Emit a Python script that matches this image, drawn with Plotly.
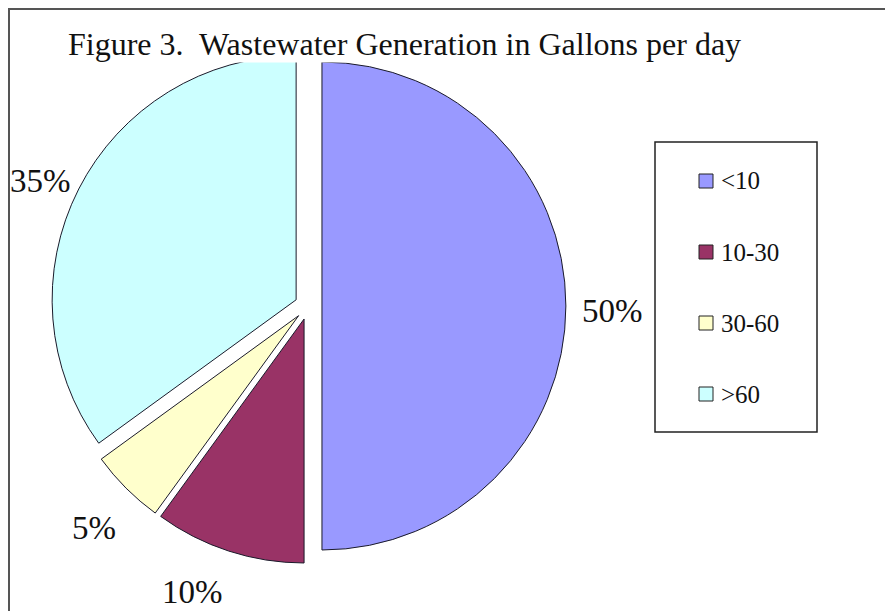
import math
import plotly.graph_objects as go

# Data
categories = ["<10", "10-30", "30-60", ">60"]
values = [50, 10, 5, 35]
colors = ["#9999FF", "#993366", "#FFFFCC", "#CCFFFF"]
title_text = "Figure 3.  Wastewater Generation in Gallons per day"

W, H = 893, 611
OFF = 8  # page body margin
SERIF = "Liberation Serif, Times New Roman, serif"

def px(x):
    return (x - OFF) / W

def py(y):
    return 1 - (y - OFF) / H

# pie geometry (screen pixels)
cx, cy, R, pull = 308.3, 306.0, 244.0, 0.056
half = R * (1 + pull)
# label placement style: (angle nudge in degrees, distance from centre in px)
label_style = [(1, 304), (4, 308), (-1, 308), (-2, 296)]

fig = go.Figure()
fig.add_trace(go.Pie(
    labels=categories,
    values=values,
    sort=False,
    direction="clockwise",
    rotation=0,
    pull=[pull] * len(values),
    marker=dict(colors=colors, line=dict(color="#1a1a2a", width=1)),
    textinfo="none",
    showlegend=False,
    automargin=False,
    domain=dict(x=[px(cx - half), px(cx + half)], y=[py(cy + half), py(cy - half)]),
))

shapes = []
annotations = []

# percentage labels outside the slices, near each slice's mid-angle
total = sum(values)
cum = 0
for v, (dang, dist) in zip(values, label_style):
    theta = 2 * math.pi * (cum + v / 2) / total + math.radians(dang)
    cum += v
    lx = cx + dist * math.sin(theta)
    ly = cy - dist * math.cos(theta)
    annotations.append(dict(text=f"{round(100 * v / total)}%", xref="paper", yref="paper",
                            x=px(lx), y=py(ly), xanchor="center", yanchor="middle",
                            showarrow=False,
                            font=dict(family=SERIF, size=33, color="#111")))

# outer frame (partially visible)
shapes.append(dict(type="rect", xref="paper", yref="paper",
                   x0=px(9), x1=px(W + 40), y0=py(H + 40), y1=py(9),
                   line=dict(color="#555555", width=2), fillcolor="rgba(0,0,0,0)"))

# legend box
shapes.append(dict(type="rect", xref="paper", yref="paper",
                   x0=px(655), x1=px(817), y0=py(432), y1=py(142),
                   line=dict(color="#222222", width=1.5), fillcolor="white"))

for i, (lab, col) in enumerate(zip(categories, colors)):
    yc = 181 + i * 71
    shapes.append(dict(type="rect", xref="paper", yref="paper",
                       x0=px(699), x1=px(713), y0=py(yc + 7), y1=py(yc - 7),
                       line=dict(color="#222222", width=1), fillcolor=col))
    annotations.append(dict(text=lab, xref="paper", yref="paper",
                            x=px(719), y=py(yc), xanchor="left", yanchor="middle",
                            showarrow=False,
                            font=dict(family=SERIF, size=25, color="#111")))

# title with white background (covers top of pie like the original)
annotations.append(dict(text=title_text, xref="paper", yref="paper",
                        x=px(404), y=py(44), xanchor="center", yanchor="middle",
                        showarrow=False, bgcolor="white", borderpad=0,
                        font=dict(family=SERIF, size=32, color="#111")))

fig.update_layout(
    width=W, height=H,
    margin=dict(l=0, r=0, t=0, b=0, autoexpand=False),
    paper_bgcolor="white",
    plot_bgcolor="white",
    shapes=shapes,
    annotations=annotations,
    showlegend=False,
)

fig.write_html("out.html")
